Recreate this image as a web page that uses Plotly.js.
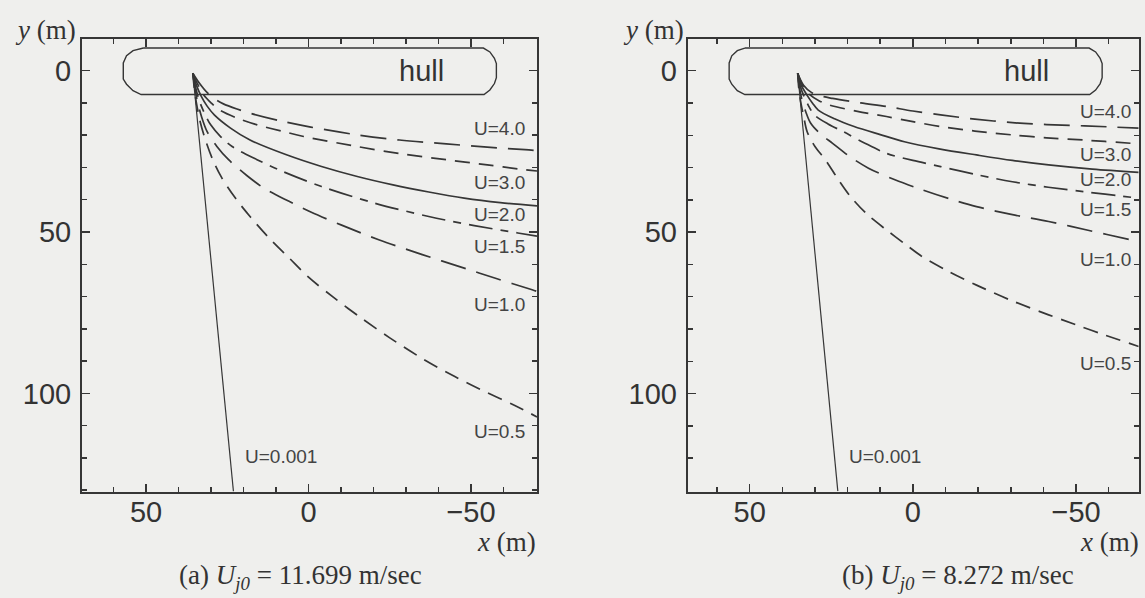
<!DOCTYPE html>
<html><head><meta charset="utf-8">
<script src="https://cdn.plot.ly/plotly-3.0.1.min.js"></script>
<style>html,body{margin:0;padding:0;background:#efefed;} #chart{width:1145px;height:598px;}</style>
</head><body><div id="chart"></div>
<script>
// ---------- DATA ----------
const uLabels = ['U=4.0','U=3.0','U=2.0','U=1.5','U=1.0','U=0.5','U=0.001'];
const xTickVals = [50, 0, -50];
const xTickText = ['50', '0', '\u221250'];
const yTickVals = [0, 50, 100];
const yTickText = ['0', '50', '100'];

// hull outlines
const hullA_x = [50.8,-53.8,-55.8,-57.2,-57.8,-57.8,-57.2,-55.8,-54,51.5,54,56,57,57,56,54,50.8];
const hullA_y = [-7,-7,-5.8,-3.8,-2.2,2.2,4,6,7.4,7.4,6.2,4.2,2.6,-2.4,-4.6,-6.2,-7];
const hullB_x = [51.5,-54,-56,-57.4,-58,-58,-57.4,-56,-54.2,51.5,53.8,55.5,56.3,56.3,55.5,53.8,51.5];
const hullB_y = [-7,-7,-5.8,-3.8,-2.2,2.2,4,6,7.4,7.4,6.2,4.2,2.6,-2.4,-4.6,-6.2,-7];

// panel (a): Uj0 = 11.699 m/sec
const a_U40_x = [35.6,33.5,31,28.5,26.2,22,18,9,-0.7,-15,-28,-42.4,-55,-66.6,-70.3];
const a_U40_y = [0.8,4,7,9,10.3,11.9,13.2,15.5,17.5,19.9,21.5,22.7,23.7,24.5,24.8];
const a_U30_x = [35.6,34.2,32.3,30,27.4,22,15.8,8,1.5,-14.9,-28,-42.4,-55,-66.6,-70.3];
const a_U30_y = [0.8,4,7.5,10,12.2,14.7,16.8,18.8,20.4,23.5,25.7,27.6,29.2,30.7,31.1];
const a_U20_x = [35.6,34.5,33,31.2,29,24,18,7,-4,-15,-26,-37,-47.9,-59,-70.3];
const a_U20_y = [0.8,4.5,8,11,13.7,17.8,21.5,26,29.7,32.8,35.4,37.6,39.5,40.9,41.9];
const a_U15_x = [35.6,34.8,33.7,32.2,30.1,27,23.5,16,9.2,-4,-20.5,-37,-51,-64.4,-70.3];
const a_U15_y = [0.8,5,9,12.8,16.8,20.5,23.5,27.5,30.7,35.9,41.1,45.2,48,50.3,51.3];
const a_U10_x = [35.6,35,34.2,33,31.2,28.2,24.6,19,13.6,6,-0.7,-10,-21.6,-35,-47.9,-58,-68.8,-70.3];
const a_U10_y = [0.8,5,9.5,14,18.9,23.5,27.6,32.5,36.5,40.5,43.8,47.8,52.4,57,61.2,64.5,67.9,68.4];
const a_U05_x = [35.6,35.2,34.5,33.3,31.7,29.5,26.8,22.5,18,12,6,0,-8,-16,-25,-35,-45,-55,-63,-70.3];
const a_U05_y = [0.8,5,10,16,21.5,27.5,33,39.5,45.2,52,58,64,70.5,76.5,82.8,89.2,94.8,99.8,103.5,107.3];
const a_U0001_x = [35.6,23.1];
const a_U0001_y = [0.8,130.4];

// panel (b): Uj0 = 8.272 m/sec
const b_U40_x = [35.3,33.5,31,28,24.6,16,8.1,0,-8.5,-19,-30.5,-41,-52.6,-69.2];
const b_U40_y = [0.8,4.5,6.8,7.9,8.6,10,11.1,12.5,13.7,15,16.1,16.7,17.1,17.8];
const b_U30_x = [35.3,33.8,31.5,28.8,25.7,17,8.1,0,-8.5,-19,-30.5,-41,-52.6,-66.9,-69.2];
const b_U30_y = [0.8,4.5,7.5,9.3,10.6,12.6,14.2,15.8,17.3,18.7,19.9,20.8,21.5,22.5,22.7];
const b_U20_x = [35.3,34.2,32.5,30.8,29,24,18,10,2.6,-8,-19.5,-30.5,-41.6,-55,-69.2];
const b_U20_y = [0.8,4.5,7.5,10,12.2,14.9,17.3,19.8,22,24.2,26.1,27.8,29.2,30.5,31.5];
const b_U15_x = [35.3,34.5,33.2,31.8,30.2,26,21.3,15,8.1,0,-8.5,-19.5,-30.5,-41.5,-52.6,-66.9,-69.2];
const b_U15_y = [0.8,4.8,8.3,11.2,13.7,16.5,18.9,22.3,25.6,27.8,29.7,32.2,34.4,36.1,37.5,39.2,39.5];
const b_U10_x = [35.3,34.8,34,32.8,31.3,28.3,24.6,19.5,13.6,5.5,-2.9,-11,-19.5,-30.5,-41.6,-54,-66.9,-69.2];
const b_U10_y = [0.8,5,9,12.8,16.3,19.6,22.5,26.5,30.2,33.8,36.9,39.6,42.1,44.6,46.7,49.5,52.4,52.9];
const b_U05_x = [35.3,35,34.4,33.5,32.4,30,26.8,23,19.1,14,8.1,2.5,-2.9,-11,-19.5,-30.5,-41.6,-50,-58.1,-69.2];
const b_U05_y = [0.8,5,9.5,14,18.9,23.5,27.6,33.5,39,44.5,49.3,53.6,57.6,62.2,66.4,71.3,75.6,78.7,81.6,85.4];
const b_U0001_x = [35.3,23.0];
const b_U0001_y = [0.8,130.2];

// label anchor points (data coords)
const a_labelX = [-67.3,-67.3,-67.3,-67.3,-67.3,-67.3,20.2];
const a_labelY = [17.8,34.8,44.7,54.6,72.5,111.9,119.5];
const b_labelX = [-67.5,-67.5,-67.5,-67.5,-67.5,-67.5,20.2];
const b_labelY = [12.7,26.1,33.8,42.9,58.6,90.6,119.5];

const captionA = '(a) <i>U<sub>j0</sub></i> = 11.699 m/sec';
const captionB = '(b) <i>U<sub>j0</sub></i> = 8.272 m/sec';

// ---------- STYLE ----------
const INK = '#363636';
const dashes = ['26px,11px','15px,9px','solid','24px,8px,8px,8px','26px,11px','15px,9px','solid'];
const widths = [1.7,1.7,1.7,1.7,1.7,1.7,1.2];
const SANS = 'Liberation Sans, Arial, Helvetica, sans-serif';
const SERIF = 'Liberation Serif, Times New Roman, serif';
const W = 1145, H = 598;

const seriesA = [[a_U40_x,a_U40_y],[a_U30_x,a_U30_y],[a_U20_x,a_U20_y],[a_U15_x,a_U15_y],[a_U10_x,a_U10_y],[a_U05_x,a_U05_y],[a_U0001_x,a_U0001_y]];
const seriesB = [[b_U40_x,b_U40_y],[b_U30_x,b_U30_y],[b_U20_x,b_U20_y],[b_U15_x,b_U15_y],[b_U10_x,b_U10_y],[b_U05_x,b_U05_y],[b_U0001_x,b_U0001_y]];

const traces = [];
function addPanel(hx, hy, series, xa, ya) {
  traces.push({x: hx, y: hy, xaxis: xa, yaxis: ya, mode: 'lines', type: 'scatter',
    line: {color: INK, width: 1.4}, hoverinfo: 'skip', showlegend: false});
  series.forEach((s, i) => {
    traces.push({x: s[0], y: s[1], xaxis: xa, yaxis: ya, mode: 'lines', type: 'scatter',
      name: uLabels[i], line: {color: INK, width: widths[i], dash: dashes[i], shape: 'spline', smoothing: 0.9},
      hoverinfo: 'skip', showlegend: false});
  });
}
addPanel(hullA_x, hullA_y, seriesA, 'x', 'y');
addPanel(hullB_x, hullB_y, seriesB, 'x2', 'y2');

const annotations = [];
function addLabels(lx, ly, xr, yr) {
  uLabels.forEach((t, i) => {
    annotations.push({text: t, x: lx[i], y: ly[i], xref: xr, yref: yr, showarrow: false,
      xanchor: i === 6 ? 'left' : 'right', yanchor: 'middle',
      font: {family: SANS, size: 19, color: '#444'}});
  });
  annotations.push({text: 'hull', x: -34.8, y: 0, xref: xr, yref: yr, showarrow: false,
    xanchor: 'center', yanchor: 'middle', font: {family: SANS, size: 29, color: '#333'}});
}
addLabels(a_labelX, a_labelY, 'x', 'y');
addLabels(b_labelX, b_labelY, 'x2', 'y2');

function paperAnn(text, px, py, xanchor, size) {
  annotations.push({text: text, x: px / W, y: 1 - py / H, xref: 'paper', yref: 'paper',
    showarrow: false, xanchor: xanchor, yanchor: 'middle',
    font: {family: SERIF, size: size, color: '#333'}});
}
paperAnn('<i>y</i> (m)', 78, 30, 'right', 27);
paperAnn('<i>y</i> (m)', 686, 30, 'right', 27);
paperAnn('<i>x</i> (m)', 538, 542, 'right', 27);
paperAnn('<i>x</i> (m)', 1141, 542, 'right', 27);
paperAnn(captionA, 300, 577, 'center', 27);
paperAnn(captionB, 958, 577, 'center', 27);

const yDom = [1 - 491.5 / H, 1 - 39 / H];
function axisBase(extra) {
  return Object.assign({
    showline: true, linecolor: INK, linewidth: 2, mirror: 'allticks',
    ticks: 'inside', ticklen: 8, tickwidth: 1.5, tickcolor: INK,
    showgrid: false, zeroline: false, tickmode: 'array',
    tickfont: {family: SANS, size: 29, color: '#333'},
    minor: {ticks: 'inside', ticklen: 5, tickwidth: 1.5, tickcolor: INK, tickmode: 'linear', tick0: 0, dtick: 10, showgrid: false},
    fixedrange: true
  }, extra);
}

const layout = {
  width: W, height: H,
  margin: {l: 0, r: 0, t: 0, b: 0},
  paper_bgcolor: '#efefed', plot_bgcolor: '#efefed',
  showlegend: false,
  xaxis: axisBase({domain: [82 / W, 537 / W], range: [69.7, -70.3], anchor: 'y', tickvals: xTickVals, ticktext: xTickText, ticklabelstandoff: -6}),
  yaxis: axisBase({domain: yDom, range: [130.4, -9.8], anchor: 'x', tickvals: yTickVals, ticktext: yTickText, ticklabelstandoff: 3}),
  xaxis2: axisBase({domain: [687.7 / W, 1138.7 / W], range: [69, -69.2], anchor: 'y2', tickvals: xTickVals, ticktext: xTickText, ticklabelstandoff: -6}),
  yaxis2: axisBase({domain: yDom, range: [130.3, -9.8], anchor: 'x2', tickvals: yTickVals, ticktext: yTickText, ticklabelstandoff: 3}),
  annotations: annotations
};

Plotly.newPlot('chart', traces, layout, {staticPlot: true, displayModeBar: false});
</script></body></html>
